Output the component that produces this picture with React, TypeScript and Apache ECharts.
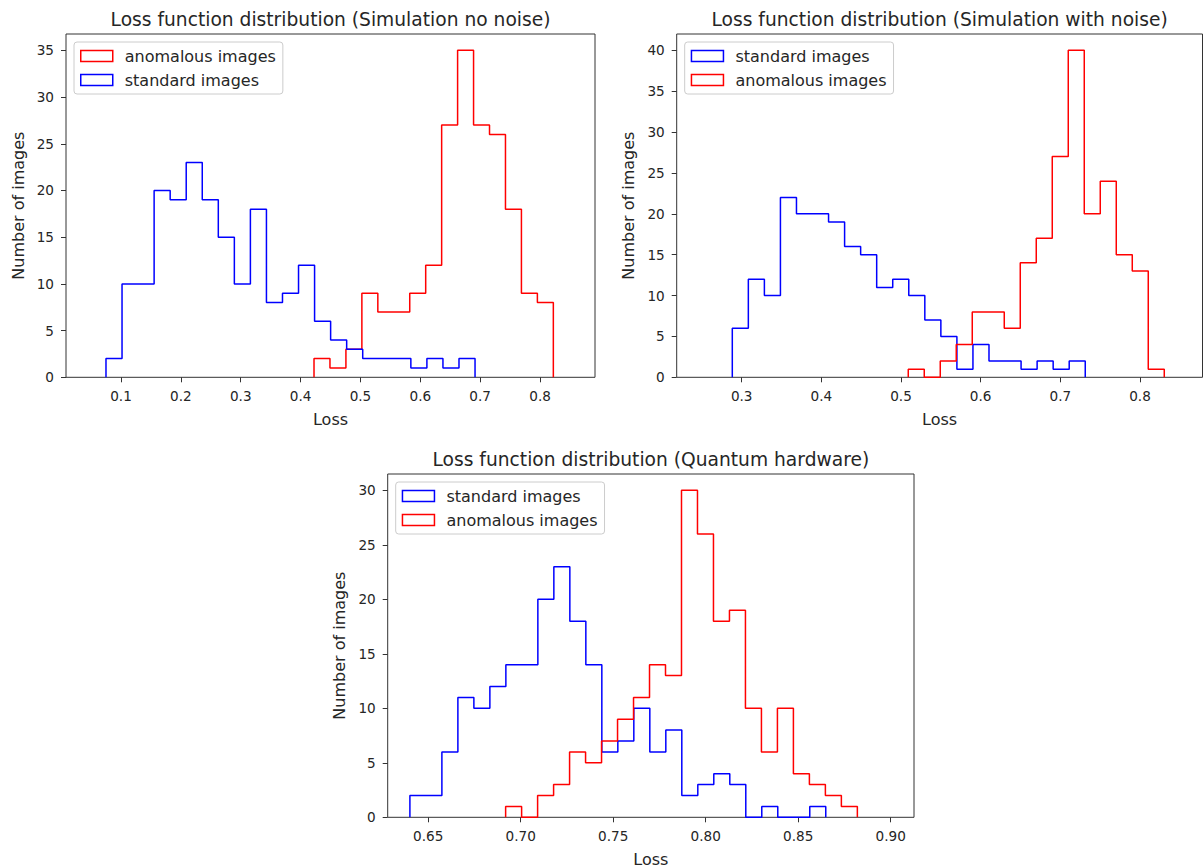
import React, { useEffect, useRef } from "react";
import * as echarts from "echarts";

// ---------- data (counts per bin) ----------
// Panel 1: Simulation no noise
const p1StandardCounts = [2, 10, 10, 20, 19, 23, 19, 15, 10, 18, 8, 9, 12, 6, 4, 3, 2, 2, 2, 1, 2, 1, 2];
const p1StandardRange = [0.0749, 0.6914];
const p1AnomalousCounts = [2, 1, 3, 9, 7, 7, 9, 12, 27, 35, 27, 26, 18, 9, 8];
const p1AnomalousRange = [0.4224, 0.8222];

// Panel 2: Simulation with noise
const p2StandardCounts = [6, 12, 10, 22, 20, 20, 19, 16, 15, 11, 12, 10, 7, 5, 1, 4, 2, 2, 1, 2, 1, 2];
const p2StandardRange = [0.2882, 0.7313];
const p2AnomalousCounts = [1, 0, 2, 4, 8, 8, 6, 14, 17, 27, 40, 20, 24, 15, 13, 1];
const p2AnomalousRange = [0.5091, 0.8305];

// Panel 3: Quantum hardware
const p3StandardCounts = [2, 2, 6, 11, 10, 12, 14, 14, 20, 23, 18, 14, 6, 7, 10, 6, 8, 2, 3, 4, 3, 0, 1, 0, 0, 1];
const p3StandardRange = [0.6401, 0.8649];
const p3AnomalousCounts = [1, 0, 2, 3, 6, 5, 7, 9, 11, 14, 13, 30, 26, 18, 19, 10, 6, 10, 4, 3, 2, 1];
const p3AnomalousRange = [0.69185, 0.88198];

// tick labels
const xTicks1 = [0.1, 0.2, 0.3, 0.4, 0.5, 0.6, 0.7, 0.8];
const yTicks1 = [0, 5, 10, 15, 20, 25, 30, 35];
const xTicks2 = [0.3, 0.4, 0.5, 0.6, 0.7, 0.8];
const yTicks2 = [0, 5, 10, 15, 20, 25, 30, 35, 40];
const xTicks3 = [0.65, 0.7, 0.75, 0.8, 0.85, 0.9];
const yTicks3 = [0, 5, 10, 15, 20, 25, 30];

const titles = [
  "Loss function distribution (Simulation no noise)",
  "Loss function distribution (Simulation with noise)",
  "Loss function distribution (Quantum hardware)",
];
const STD = "standard images";
const ANO = "anomalous images";

// ---------- helpers ----------
const FONT = "DejaVu Sans";
const TEXT = "#262626";
const FRAME = "#333333";
const BLUE = "#0000ff";
const RED = "#ff0000";
const TICK_FS = 13.6;
const LABEL_FS = 16;
const TITLE_FS = 18.67;

function stepPoints(range: number[], counts: number[]) {
  const n = counts.length;
  const w = (range[1] - range[0]) / n;
  const pts: number[][] = [[range[0], 0]];
  for (let i = 0; i < n; i++) pts.push([range[0] + i * w, counts[i]]);
  pts.push([range[1], counts[n - 1]]);
  pts.push([range[1], 0]);
  return pts;
}

const panels = [
  { left: 66, top: 34, width: 529, height: 343.3, xMin: 0.0081, xMax: 0.8918, yMax: 36.75, xTicks: xTicks1, yTicks: yTicks1, dec: 1 },
  { left: 676.7, top: 34, width: 525.8, height: 343.3, xMin: 0.2184, xMax: 0.8785, yMax: 42, xTicks: xTicks2, yTicks: yTicks2, dec: 1 },
  { left: 387.7, top: 474, width: 526.3, height: 343.3, xMin: 0.6281, xMax: 0.9126, yMax: 31.5, xTicks: xTicks3, yTicks: yTicks3, dec: 2 },
];

const legendOrder = [
  [ANO, STD],
  [STD, ANO],
  [STD, ANO],
];

const seriesDefs = [
  { name: ANO, panel: 0, range: p1AnomalousRange, counts: p1AnomalousCounts, color: RED },
  { name: STD, panel: 0, range: p1StandardRange, counts: p1StandardCounts, color: BLUE },
  { name: STD, panel: 1, range: p2StandardRange, counts: p2StandardCounts, color: BLUE },
  { name: ANO, panel: 1, range: p2AnomalousRange, counts: p2AnomalousCounts, color: RED },
  { name: STD, panel: 2, range: p3StandardRange, counts: p3StandardCounts, color: BLUE },
  { name: ANO, panel: 2, range: p3AnomalousRange, counts: p3AnomalousCounts, color: RED },
];

function buildOption() {
  const grid = panels.map((p) => ({
    left: p.left,
    top: p.top,
    width: p.width,
    height: p.height,
    show: true,
    borderColor: FRAME,
    borderWidth: 1,
    backgroundColor: "#ffffff",
    containLabel: false,
    outerBoundsMode: "none",
  }));

  const xAxis = panels.map((p, i) => ({
    type: "value",
    gridIndex: i,
    min: p.xMin,
    max: p.xMax,
    name: "Loss",
    nameLocation: "middle",
    nameGap: 34,
    nameTextStyle: { fontFamily: FONT, fontSize: LABEL_FS, color: TEXT },
    axisLine: { show: false },
    splitLine: { show: false },
    axisTick: { show: true, length: 5, inside: false, lineStyle: { color: FRAME, width: 1 }, customValues: p.xTicks },
    axisLabel: {
      customValues: p.xTicks,
      margin: 12,
      fontFamily: FONT,
      fontSize: TICK_FS,
      color: TEXT,
      formatter: (v: number) => v.toFixed(p.dec),
    },
  }));

  const yAxis = panels.map((p, i) => ({
    type: "value",
    gridIndex: i,
    min: 0,
    max: p.yMax,
    name: "Number of images",
    nameLocation: "middle",
    nameGap: 40,
    nameTextStyle: { fontFamily: FONT, fontSize: LABEL_FS, color: TEXT },
    axisLine: { show: false },
    splitLine: { show: false },
    axisTick: { show: true, length: 5, inside: false, lineStyle: { color: FRAME, width: 1 }, customValues: p.yTicks },
    axisLabel: {
      customValues: p.yTicks,
      margin: 12,
      fontFamily: FONT,
      fontSize: TICK_FS,
      color: TEXT,
      formatter: (v: number) => String(Math.round(v)),
    },
  }));

  const title = panels.map((p, i) => ({
    text: titles[i],
    left: p.left + p.width / 2,
    textAlign: "center",
    top: p.top - 26,
    padding: 0,
    textStyle: { fontFamily: FONT, fontSize: TITLE_FS, fontWeight: "normal", color: TEXT, lineHeight: 22 },
  }));

  const legend = panels.map((p, i) => ({
    orient: "vertical",
    left: p.left + 8,
    top: p.top + 8,
    itemWidth: 32,
    itemHeight: 11,
    itemGap: 5,
    padding: [4.5, 7, 4.5, 6],
    borderColor: "#cccccc",
    borderWidth: 1,
    borderRadius: 3,
    backgroundColor: "rgba(255,255,255,0.8)",
    selectedMode: false,
    textStyle: { fontFamily: FONT, fontSize: LABEL_FS, color: TEXT, lineHeight: 19, padding: [0, 0, 0, 7] },
    data: legendOrder[i].map((name) => ({
      name,
      icon: "rect",
      itemStyle: {
        color: "rgba(0,0,0,0)",
        borderColor: name === STD ? BLUE : RED,
        borderWidth: 1.5,
      },
    })),
  }));

  const series = seriesDefs.map((s) => ({
    type: "line",
    name: s.name,
    xAxisIndex: s.panel,
    yAxisIndex: s.panel,
    data: stepPoints(s.range, s.counts),
    step: "end",
    symbol: "none",
    showSymbol: false,
    silent: true,
    lineStyle: { color: s.color, width: 1.5 },
    itemStyle: { color: s.color },
    emphasis: { disabled: true },
  }));

  return {
    animation: false,
    backgroundColor: "#ffffff",
    title,
    legend,
    grid,
    xAxis,
    yAxis,
    series,
  };
}

export default function App() {
  const ref = useRef<HTMLDivElement>(null);
  useEffect(() => {
    if (!ref.current) return;
    const chart = echarts.init(ref.current, undefined, { renderer: "svg" });
    chart.setOption(buildOption() as any);
    return () => chart.dispose();
  }, []);
  return (
    <div
      ref={ref}
      style={{ position: "fixed", left: 0, top: 0, width: 1203, height: 868, background: "#fff" }}
    />
  );
}
